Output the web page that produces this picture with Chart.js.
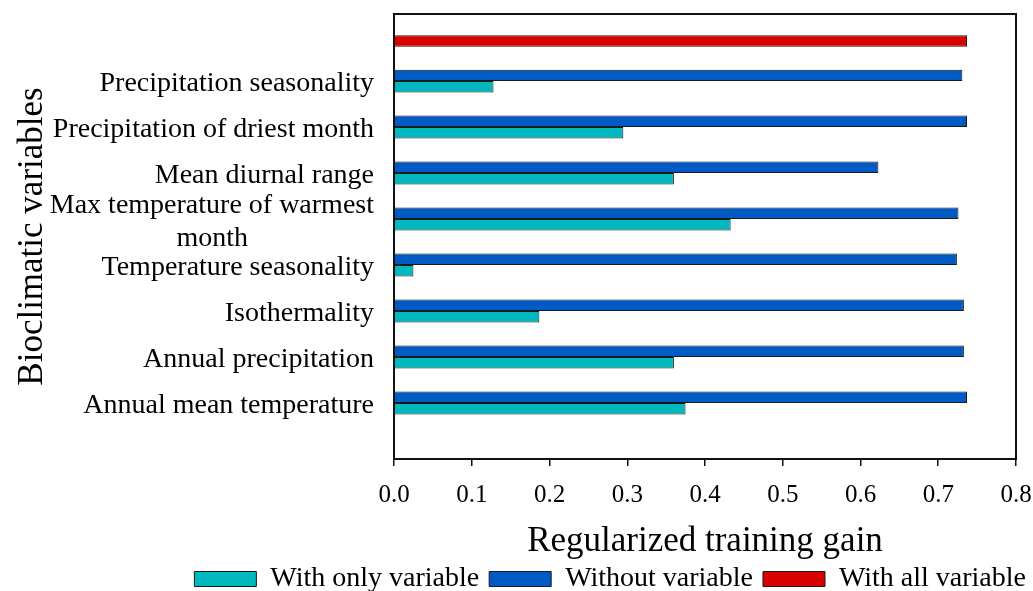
<!DOCTYPE html>
<html>
<head>
<meta charset="utf-8">
<script src="https://cdn.jsdelivr.net/npm/chart.js@4.4.1/dist/chart.umd.min.js"></script>
<style>
  html, body { margin: 0; padding: 0; background: #fff; }
  #wrap { width: 1033px; height: 591px; }
</style>
</head>
<body>
<div id="wrap"><canvas id="c" width="1033" height="591"></canvas></div>
<script>
// ---- data (top to bottom) ----
const categories = [
  'Precipitation seasonality',
  'Precipitation of driest month',
  'Mean diurnal range',
  ['Max temperature of warmest', 'month'],
  'Temperature seasonality',
  'Isothermality',
  'Annual precipitation',
  'Annual mean temperature'
];
const withOnlyVariable = [0.128, 0.295, 0.360, 0.433, 0.025, 0.187, 0.360, 0.375];
const withoutVariable  = [0.731, 0.737, 0.623, 0.726, 0.724, 0.733, 0.733, 0.737];
const withAllVariable  = [0.737];
const seriesNames = ['With only variable', 'Without variable', 'With all variable'];
const xTicks = [0.0, 0.1, 0.2, 0.3, 0.4, 0.5, 0.6, 0.7, 0.8];

// row 0 holds the "with all variable" bar, rows 1.. hold the variables
const rowLabels = [''].concat(categories);

const FONT = "'Liberation Serif', 'Times New Roman', serif";

const measureCtx = document.createElement('canvas').getContext('2d');
function centreLines(label, size) {
  if (!Array.isArray(label)) return label;
  measureCtx.font = size + 'px ' + FONT;
  const w0 = measureCtx.measureText(label[0]).width;
  const sp = measureCtx.measureText('\u00a0').width;
  return label.map((l, i) => {
    if (i === 0) return l;
    const w = measureCtx.measureText(l).width;
    const n = Math.max(0, Math.round((w0 - w) / 2 / sp));
    return l + '\u00a0'.repeat(n);
  });
}

const framePlugin = {
  id: 'frame',
  afterDatasetsDraw(chart) {
    const {ctx, chartArea: a} = chart;
    ctx.save();
    ctx.strokeStyle = '#111';
    ctx.lineWidth = 2;
    ctx.strokeRect(a.left, a.top, a.right - a.left, a.bottom - a.top);
    ctx.restore();
  }
};

new Chart(document.getElementById('c'), {
  type: 'bar',
  data: {
    datasets: [
      {
        label: seriesNames[0],
        data: withOnlyVariable.map((v, i) => ({ y: i + 1, x: v })),
        backgroundColor: '#00B9BE',
        borderColor: '#1a1a1a',
        borderWidth: 1,
        stack: 'b',
        order: 1
      },
      {
        label: seriesNames[1],
        data: withoutVariable.map((v, i) => ({ y: i + 1, x: v })),
        backgroundColor: '#005AC3',
        borderColor: '#1a1a1a',
        borderWidth: 1,
        stack: 'a',
        order: 0
      },
      {
        label: seriesNames[2],
        data: withAllVariable.map((v, i) => ({ y: i, x: v })),
        backgroundColor: '#D90000',
        borderColor: '#1a1a1a',
        borderWidth: 1,
        stack: 'b',
        order: 2
      }
    ]
  },
  options: {
    indexAxis: 'y',
    responsive: false,
    animation: false,
    categoryPercentage: 0.5,
    barPercentage: 1.0,
    layout: { padding: { top: 14, right: -3, bottom: -12, left: 0 } },
    plugins: {
      tooltip: { enabled: false },
      legend: {
        position: 'bottom',
        align: 'end',
        labels: {
          color: '#000',
          font: { family: FONT, size: 28 },
          boxWidth: 62,
          boxHeight: 15,
          padding: 10,
          sort: (a, b) => a.datasetIndex - b.datasetIndex
        }
      }
    },
    scales: {
      x: {
        type: 'linear',
        min: 0,
        max: 0.8,
        afterBuildTicks(scale) { scale.ticks = xTicks.map(v => ({ value: v })); },
        afterFit(scale) { scale.paddingRight = 17; },
        ticks: {
          color: '#000',
          font: { family: FONT, size: 25 },
          padding: 14,
          callback: v => Number(v).toFixed(1)
        },
        grid: { display: true, drawOnChartArea: false, drawTicks: true, tickLength: 7, color: '#111', lineWidth: 1.5 },
        border: { display: false },
        title: {
          display: true,
          text: 'Regularized training gain',
          color: '#000',
          font: { family: FONT, size: 35, lineHeight: 1 },
          padding: { top: 0, bottom: -4 }
        }
      },
      y: {
        type: 'linear',
        reverse: true,
        offset: false,
        bounds: 'data',
        min: -0.46,
        max: 9.22,
        afterBuildTicks(scale) {
          scale.ticks = rowLabels.map((_, i) => ({ value: i }));
          scale.min = -0.46;
          scale.max = 9.22;
        },
        afterFit(scale) { scale.width = 394; scale.paddingTop = 0; scale.paddingBottom = 0; },
        ticks: {
          color: '#000',
          font: { family: FONT, size: 28 },
          padding: 20,
          labelOffset: 3,
          autoSkip: false,
          callback: v => centreLines(rowLabels[v], 28)
        },
        grid: { display: false, drawTicks: false, offset: false },
        border: { display: false },
        title: {
          display: true,
          text: 'Bioclimatic variables',
          color: '#000',
          font: { family: FONT, size: 35 },
          padding: { top: 12, bottom: 0 }
        }
      }
    }
  },
  plugins: [framePlugin]
});
</script>
</body>
</html>
